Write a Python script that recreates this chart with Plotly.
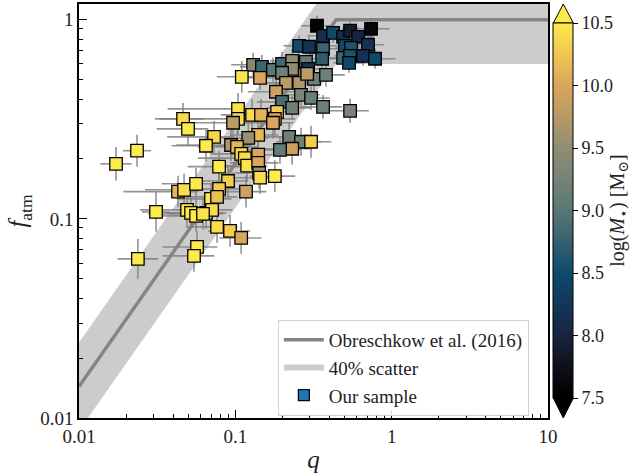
import numpy as np
import plotly.graph_objects as go

# ---- data ----
q_vals = [0.333, 0.738, 0.364, 0.422, 0.489, 0.542, 0.610, 0.706, 0.256, 0.296,
          0.364, 0.359, 0.503, 0.550, 0.489, 0.542, 0.656, 0.783, 0.534,
          0.130, 0.148, 0.144, 0.174, 0.199, 0.231, 0.231, 0.199, 0.283, 0.292,
          0.319, 0.380, 0.211, 0.256, 0.182, 0.263, 0.305, 0.199, 0.231, 0.364, 0.542,
          0.110, 0.288, 0.104, 0.104, 0.128, 0.146, 0.185, 0.179, 0.174, 0.140,
          0.121, 0.221, 0.263, 0.305, 0.231, 0.193, 0.0939, 0.1025, 0.109, 0.115,
          0.119, 0.140, 0.140, 0.142, 0.144, 0.179, 0.0787, 0.0731, 0.0649, 0.0463,
          0.0498, 0.0967, 0.0235, 0.01725, 0.0898, 0.0787, 0.117, 0.0430, 0.0470, 0.0561,
          0.0699, 0.0764, 0.0311, 0.0491, 0.0521, 0.0561, 0.0649, 0.0710, 0.0621,
          0.0764, 0.0925, 0.109, 0.0569, 0.0544, 0.0238]
fatm_vals = [0.933, 0.901, 0.831, 0.860, 0.821, 0.881, 0.821, 0.749, 0.740, 0.732,
             0.715, 0.637, 0.740, 0.723, 0.644, 0.659, 0.659, 0.637, 0.608,
             0.594, 0.580, 0.511, 0.561, 0.601, 0.622, 0.567, 0.542, 0.615, 0.567,
             0.505, 0.529, 0.482, 0.482, 0.435, 0.420, 0.405, 0.387, 0.361, 0.365, 0.349,
             0.517, 0.535, 0.357, 0.318, 0.333, 0.333, 0.345, 0.318, 0.304, 0.264,
             0.255, 0.258, 0.244, 0.244, 0.225, 0.222, 0.235, 0.230, 0.212, 0.202,
             0.185, 0.210, 0.191, 0.170, 0.161, 0.164, 0.183, 0.258, 0.233, 0.318,
             0.283, 0.304, 0.220, 0.189, 0.155, 0.1415, 0.137, 0.137, 0.140, 0.150,
             0.126, 0.129, 0.1084, 0.1110, 0.1072, 0.1035, 0.1072, 0.1110, 0.1059,
             0.0912, 0.0870, 0.0802, 0.0723, 0.0652, 0.0630]
logmstar_vals = [7.55, 7.6, 8.1, 8.5, 8.1, 7.9, 8.0, 8.2, 8.5, 8.2,
                 8.8, 8.7, 8.5, 8.6, 8.8, 8.6, 8.2, 8.5, 8.5,
                 9.4, 8.8, 10.0, 9.0, 8.85, 9.5, 9.5, 9.2, 9.1, 8.2,
                 9.2, 9.2, 9.8, 9.7, 9.9, 9.3, 9.15, 8.9, 9.2, 9.2, 9.3,
                 10.45, 9.8, 10.45, 10.4, 10.4, 10.1, 10.3, 10.0, 10.0, 10.15,
                 9.55, 9.2, 9.2, 10.3, 9.9, 9.1, 9.7, 10.1, 10.4, 10.4,
                 10.45, 10.0, 10.0, 9.6, 10.4, 10.5, 10.5, 10.35, 10.5, 10.4,
                 10.5, 9.8, 10.5, 10.5, 10.3, 10.3, 9.9, 10.1, 10.4, 10.5,
                 10.5, 10.2, 10.5, 10.5, 10.5, 10.5, 10.5, 10.4, 10.45,
                 10.4, 10.3, 10.0, 10.5, 10.5, 10.5]
# error bars in dex
q_err_lo_dex = [0.10, 0.10, 0.10, 0.10, 0.10, 0.10, 0.10, 0.11, 0.10, 0.10,
                0.10, 0.10, 0.10, 0.10, 0.10, 0.10, 0.10, 0.13, 0.10,
                0.14, 0.14, 0.14, 0.14, 0.16, 0.14, 0.14, 0.16, 0.14, 0.12,
                0.14, 0.14, 0.16, 0.16, 0.18, 0.14, 0.16, 0.16, 0.16, 0.14, 0.14,
                0.16, 0.14, 0.45, 0.50, 0.20, 0.18, 0.20, 0.18, 0.20, 0.18,
                0.22, 0.20, 0.16, 0.16, 0.18, 0.20, 0.35, 0.25, 0.20, 0.30,
                0.20, 0.18, 0.18, 0.18, 0.20, 0.16, 0.20, 0.30, 0.22, 0.18,
                0.20, 0.30, 0.09, 0.10, 0.18, 0.25, 0.16, 0.35, 0.25, 0.22,
                0.22, 0.20, 0.09, 0.30, 0.25, 0.22, 0.25, 0.22, 0.35,
                0.20, 0.14, 0.14, 0.22, 0.20, 0.13]
q_err_hi_dex = [0.10, 0.12, 0.10, 0.10, 0.10, 0.10, 0.10, 0.10, 0.10, 0.10,
                0.10, 0.10, 0.10, 0.10, 0.10, 0.10, 0.10, 0.13, 0.10,
                0.12, 0.12, 0.12, 0.12, 0.12, 0.12, 0.12, 0.12, 0.12, 0.12,
                0.12, 0.12, 0.12, 0.12, 0.12, 0.12, 0.12, 0.12, 0.12, 0.12, 0.12,
                0.13, 0.13, 0.13, 0.13, 0.13, 0.13, 0.13, 0.13, 0.13, 0.13,
                0.13, 0.13, 0.13, 0.13, 0.13, 0.13, 0.13, 0.13, 0.13, 0.13,
                0.13, 0.13, 0.13, 0.13, 0.13, 0.13, 0.13, 0.13, 0.13, 0.13,
                0.13, 0.13, 0.09, 0.10, 0.13, 0.13, 0.13, 0.13, 0.13, 0.13,
                0.13, 0.13, 0.09, 0.13, 0.13, 0.13, 0.13, 0.13, 0.13,
                0.13, 0.13, 0.13, 0.13, 0.13, 0.13]
fatm_err_dex = [0.05, 0.05, 0.05, 0.05, 0.05, 0.05, 0.05, 0.05, 0.05, 0.05,
                0.05, 0.05, 0.05, 0.05, 0.05, 0.05, 0.05, 0.05, 0.05,
                0.06, 0.06, 0.06, 0.06, 0.06, 0.06, 0.06, 0.06, 0.06, 0.06,
                0.06, 0.06, 0.06, 0.06, 0.06, 0.06, 0.06, 0.06, 0.06, 0.06, 0.06,
                0.08, 0.06, 0.08, 0.08, 0.08, 0.08, 0.08, 0.08, 0.08, 0.08,
                0.08, 0.07, 0.07, 0.08, 0.08, 0.07, 0.08, 0.08, 0.08, 0.08,
                0.08, 0.08, 0.08, 0.08, 0.08, 0.08, 0.08, 0.08, 0.08, 0.08,
                0.08, 0.08, 0.08, 0.085, 0.08, 0.08, 0.08, 0.08, 0.08, 0.08,
                0.08, 0.08, 0.10, 0.08, 0.08, 0.08, 0.08, 0.08, 0.08,
                0.08, 0.08, 0.08, 0.08, 0.08, 0.10]

# Obreschkow et al. (2016) relation
model_norm = 2.5
model_slope = 1.12
scatter_factor = 0.6
q_model = [0.01, (1 / model_norm) ** (1 / model_slope), 10.0]

x_tickvals = [0.01, 0.1, 1, 10]
x_ticktext = ["0.01", "0.1", "1", "10"]
y_tickvals = [0.01, 0.1, 1]
y_ticktext = ["0.01", "0.1", "1"]
minor_mults = [2, 3, 4, 5, 6, 7, 8, 9]
cbar_tickvals = [7.5, 8.0, 8.5, 9.0, 9.5, 10.0, 10.5]
cbar_ticktext = ["7.5", "8.0", "8.5", "9.0", "9.5", "10.0", "10.5"]

# ---- derived ----
q = np.array(q_vals)
f = np.array(fatm_vals)
qm = np.array(q_model)
fm = np.minimum(1.0, model_norm * qm ** model_slope)
f_lo = fm * scatter_factor
f_hi = fm / scatter_factor

xe_hi = q * (10 ** np.array(q_err_hi_dex) - 1)
xe_lo = q * (1 - 10 ** (-np.array(q_err_lo_dex)))
ye = np.array(fatm_err_dex)
ye_hi = f * (10 ** ye - 1)
ye_lo = f * (1 - 10 ** (-ye))

x_minor = [m * d for d in [0.01, 0.1, 1] for m in minor_mults]
y_minor = [m * d for d in [0.01, 0.1] for m in minor_mults]

cscale = [
    [0.0, "#000000"],
    [0.083, "#0d0f1a"],
    [0.167, "#1a2340"],
    [0.25, "#13365a"],
    [0.333, "#0e4a6a"],
    [0.417, "#36616f"],
    [0.5, "#5a7775"],
    [0.583, "#748476"],
    [0.667, "#918d72"],
    [0.75, "#b59a67"],
    [0.833, "#d8a65c"],
    [0.917, "#f0c650"],
    [1.0, "#fdea4c"],
]

SERIF = "Liberation Serif, DejaVu Serif, serif"

fig = go.Figure()

# scatter band
fig.add_trace(go.Scatter(
    x=np.concatenate([qm, qm[::-1]]),
    y=np.concatenate([f_hi, f_lo[::-1]]),
    fill="toself", fillcolor="#cccccc", mode="none",
    line=dict(width=0), name="40% scatter", showlegend=True, legendrank=2,
    hoverinfo="skip"))

# model line
fig.add_trace(go.Scatter(
    x=qm, y=fm, mode="lines", line=dict(color="#858585", width=3.5),
    name="Obreschkow et al. (2016)", legendrank=1))

# error bars
fig.add_trace(go.Scatter(
    x=q, y=f, mode="markers",
    marker=dict(size=2, color="rgba(0,0,0,0)"),
    error_x=dict(type="data", symmetric=False, array=xe_hi, arrayminus=xe_lo,
                 color="rgba(128,128,128,0.85)", thickness=1.6, width=0),
    error_y=dict(type="data", symmetric=False, array=ye_hi, arrayminus=ye_lo,
                 color="rgba(128,128,128,0.85)", thickness=1.6, width=0),
    showlegend=False, hoverinfo="skip"))

# data points
fig.add_trace(go.Scatter(
    x=q, y=f, mode="markers",
    marker=dict(symbol="square", size=12.5, color=logmstar_vals,
                colorscale=cscale, cmin=7.5, cmax=10.5,
                line=dict(color="black", width=1.3),
                colorbar=dict(
                    thickness=20, lenmode="pixels", len=375,
                    x=1.0113, xanchor="left", xpad=0, y=0.501, yanchor="middle",
                    ypad=0, outlinecolor="black", outlinewidth=1,
                    tickmode="array", tickvals=cbar_tickvals, ticktext=cbar_ticktext,
                    ticks="outside", ticklen=5, tickcolor="black",
                    tickfont=dict(family=SERIF, size=18, color="#222"),
                    title=dict(text="log(<i>M</i><sub>⋆</sub>) [M<sub>⊙</sub>]",
                               side="right",
                               font=dict(family=SERIF, size=20, color="#222")),
                )),
    showlegend=False))

# legend-only marker entry
fig.add_trace(go.Scatter(
    x=[None], y=[None], mode="markers",
    marker=dict(symbol="square", size=11, color="#1f77b4",
                line=dict(color="black", width=1.2)),
    name="Our sample", legendrank=3))

# colorbar extension triangles
fig.add_shape(type="path", xref="paper", yref="paper",
              path="M 1.0113 0.9541 L 1.0540 0.9541 L 1.0326 1.0 Z",
              fillcolor="#fdea4c", line=dict(color="black", width=1))
fig.add_shape(type="path", xref="paper", yref="paper",
              path="M 1.0113 0.0483 L 1.0540 0.0483 L 1.0326 0.0 Z",
              fillcolor="#000000", line=dict(color="black", width=1))

axis_common = dict(
    type="log", showgrid=False, zeroline=False,
    showline=True, linecolor="black", linewidth=1.5, mirror=True,
    ticks="inside", ticklen=8, tickwidth=1.3, tickcolor="black",
    tickfont=dict(family=SERIF, size=19, color="#222"),
)

fig.update_xaxes(**axis_common, range=[-2, 1],
                 tickmode="array", tickvals=x_tickvals, ticktext=x_ticktext,
                 minor=dict(tickmode="array", tickvals=x_minor, ticks="inside",
                            ticklen=4, tickwidth=1, tickcolor="black", showgrid=False),
                 title=dict(text="<i>q</i>", font=dict(family=SERIF, size=25, color="#222"),
                            standoff=6))
fig.update_yaxes(**axis_common, range=[-2, np.log10(1.2)],
                 tickmode="array", tickvals=y_tickvals, ticktext=y_ticktext,
                 minor=dict(tickmode="array", tickvals=y_minor, ticks="inside",
                            ticklen=4, tickwidth=1, tickcolor="black", showgrid=False),
                 title=dict(text="<i>f</i><sub>atm</sub>",
                            font=dict(family=SERIF, size=25, color="#222"), standoff=6))

fig.update_layout(
    width=643, height=473,
    margin=dict(l=79, r=95, t=4, b=55, autoexpand=False),
    plot_bgcolor="white", paper_bgcolor="white",
    legend=dict(x=0.424, y=0.237, xanchor="left", yanchor="top",
                bgcolor="rgba(255,255,255,0.85)", bordercolor="#d0d0d0", borderwidth=1,
                font=dict(family=SERIF, size=19, color="#222"),
                traceorder="normal", itemwidth=40),
)

fig.write_html("out.html", config={"displayModeBar": False},
               post_script="document.body.style.margin='0';")
